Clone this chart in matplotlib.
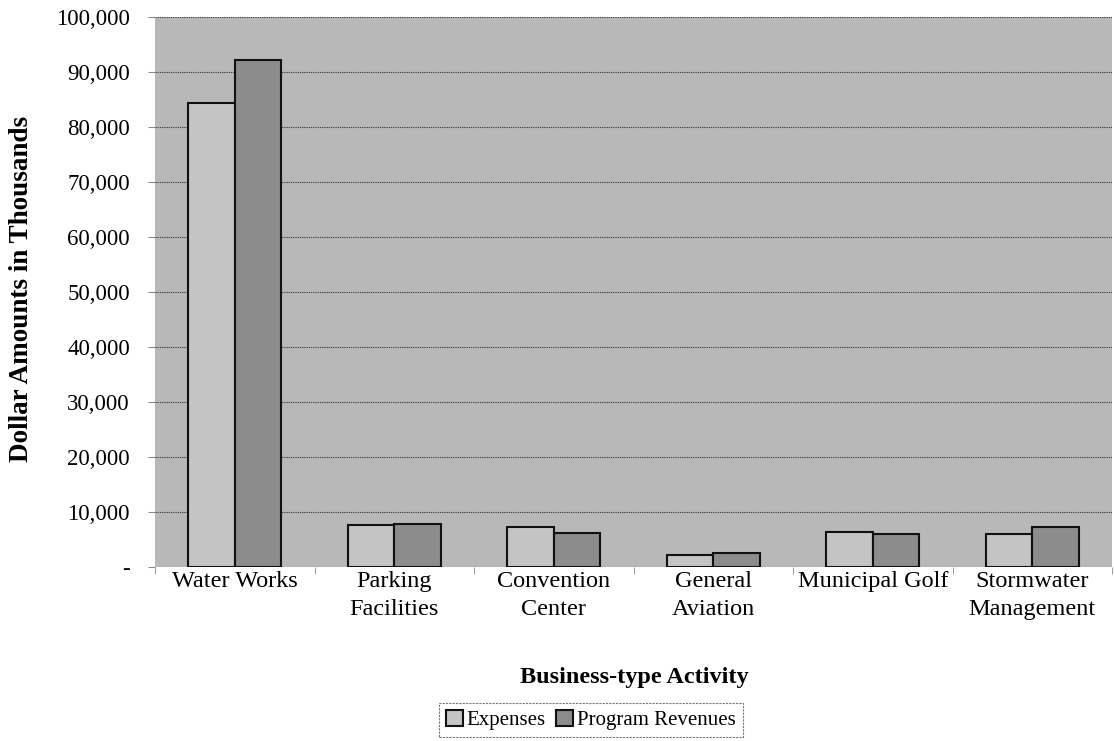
import matplotlib
matplotlib.use("Agg")
import matplotlib.pyplot as plt
import numpy as np
from matplotlib.ticker import FuncFormatter

categories = ["Water Works", "Parking\nFacilities", "Convention\nCenter",
              "General\nAviation", "Municipal Golf", "Stormwater\nManagement"]
expenses = [84400, 7600, 7300, 2200, 6400, 6000]
program_revenues = [92200, 7800, 6200, 2500, 6000, 7300]
y_ticks = list(range(0, 100001, 10000))

plt.rcParams["font.family"] = ["Liberation Serif", "DejaVu Serif"]

fig = plt.figure(figsize=(11.14, 7.41), dpi=100)
ax = fig.add_axes([155 / 1114, 1 - 567 / 741, (1112 - 155) / 1114, (567 - 17) / 741])

ax.set_facecolor("#b8b8b8")
x = np.arange(len(categories))
w = 0.29
ax.bar(x - w / 2, expenses, w, color="#c4c4c4", edgecolor="#111111", linewidth=1.5,
       label="Expenses", zorder=3)
ax.bar(x + w / 2, program_revenues, w, color="#8c8c8c", edgecolor="#111111", linewidth=1.5,
       label="Program Revenues", zorder=3)

ax.set_xlim(-0.5, len(categories) - 0.5)
ax.set_ylim(0, 100000)
ax.set_yticks(y_ticks)
ax.yaxis.set_major_formatter(FuncFormatter(lambda v, p: "-" if v == 0 else f"{int(v):,}"))
ax.set_xticks(x)
ax.set_xticklabels(categories, fontsize=17.5, linespacing=1.4)
ax.set_xticks(np.arange(-0.5, len(categories)), minor=True)
ax.tick_params(axis="x", which="major", length=0, pad=3)
ax.tick_params(axis="x", which="minor", length=5, color="#888888")
ax.tick_params(axis="y", labelsize=16.5, length=5, color="#888888", pad=13)

ax.grid(axis="y", color="#333333", linestyle=(0, (1, 1)), linewidth=0.8, zorder=1)
for s in ax.spines.values():
    s.set_visible(False)

fig.text(22 / 1114, 1 - 289 / 741, "Dollar Amounts in Thousands", fontsize=19.5,
         fontweight="bold", rotation=90, ha="center", va="center")
fig.text(634 / 1114, 1 - 678 / 741, "Business-type Activity", fontsize=17.5,
         fontweight="bold", ha="center", va="center")

leg = fig.legend(loc="center", bbox_to_anchor=(591 / 1114, 1 - 720 / 741), ncol=2,
                 fontsize=15, frameon=True, fancybox=False, handlelength=0.8,
                 handleheight=0.8, handletextpad=0.2, columnspacing=0.5,
                 borderpad=0.35, edgecolor="#555555")
leg.get_frame().set_linestyle((0, (2, 1)))
leg.get_frame().set_linewidth(0.8)

fig.savefig("out.png", dpi=100, facecolor="white")
